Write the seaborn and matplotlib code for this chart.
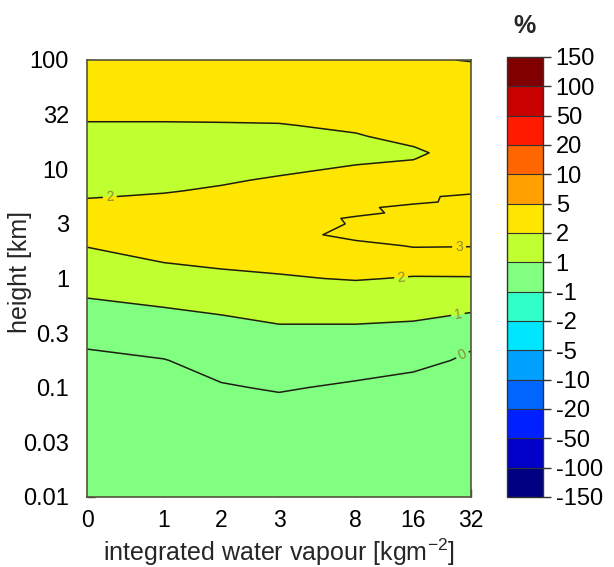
import numpy as np
import matplotlib
matplotlib.use("Agg")
import matplotlib.pyplot as plt
import seaborn as sns

# ---------------- data ----------------
iwv_labels = ['0', '1', '2', '3', '8', '16', '32']
iwv_pos = [0, 4, 7, 10, 14, 17, 20]

height_log10 = [-2.0, -1.5, -1.0, -0.75, -0.5, -0.25, 0.0, 0.1, 0.2, 0.3, 0.4,
                0.5, 0.55, 0.6, 0.65, 0.7, 0.75, 0.8, 0.9, 1.0, 1.1, 1.15, 1.2,
                1.3, 1.4, 1.5, 1.75, 2.0]
height_tick_log10 = [-2, -1.5, -1, -0.5, 0, 0.5, 1, 1.5, 2]
height_tick_labels = ['0.01', '0.03', '0.1', '0.3', '1', '3', '10', '32', '100']

# relative difference (%) per water-vapour column, bottom -> top
col_iwv0 = [-0.9, -0.85, -0.65, -0.22, 0.31, 0.85, 1.38, 1.59, 1.81, 2.03, 2.25,
            2.4, 2.4, 2.35, 2.25, 2.1, 1.95, 1.85, 1.7, 1.6, 1.55, 1.56, 1.6,
            1.7, 1.92, 2.15, 2.4, 2.5]
col_iwv1 = [-0.9, -0.85, -0.55, -0.03, 0.5, 1.03, 1.65, 1.9, 2.12, 2.3, 2.42,
            2.5, 2.5, 2.45, 2.35, 2.22, 2.08, 1.95, 1.78, 1.65, 1.58, 1.58, 1.6,
            1.7, 1.92, 2.15, 2.4, 2.5]
col_iwv2 = [-0.9, -0.7, -0.07, 0.3, 0.6, 1.2, 1.8, 2.03, 2.25, 2.42, 2.55,
            2.62, 2.62, 2.58, 2.5, 2.4, 2.28, 2.11, 1.9, 1.72, 1.62, 1.61, 1.62,
            1.72, 1.93, 2.17, 2.4, 2.5]
col_iwv3 = [-0.9, -0.75, 0.07, 0.45, 0.83, 1.35, 1.93, 2.1, 2.3, 2.5, 2.68,
            2.75, 2.75, 2.7, 2.62, 2.55, 2.48, 2.4, 2.1, 1.85, 1.7, 1.68, 1.68,
            1.75, 1.95, 2.2, 2.42, 2.5]
col_iwv8 = [-0.85, -0.6, -0.12, 0.35, 0.83, 1.35, 2.05, 2.3, 2.55, 2.78, 3.24,
            3.04, 3.06, 2.9, 2.86, 2.78, 2.7, 2.6, 2.35, 2.1, 1.85, 1.82, 1.8,
            1.93, 2.15, 2.3, 2.45, 2.5]
col_iwv16 = [-0.8, -0.5, -0.3, 0.22, 0.75, 1.32, 1.95, 2.2, 2.7, 3.05, 3.3,
             3.35, 3.3, 3.1, 3.2, 2.88, 2.8, 2.75, 2.5, 2.2, 1.97, 1.85, 1.98,
             2.25, 2.4, 2.45, 2.4, 2.08]
col_iwv32 = [-0.8, -0.55, -0.35, -0.12, 0.23, 1.25, 1.95, 2.25, 2.7, 3.03, 3.3,
             3.4, 3.4, 3.35, 3.25, 3.16, 3.23, 2.73, 2.6, 2.5, 2.45, 2.4, 2.45,
             2.5, 2.5, 2.5, 2.45, 1.97]

levels = [-150, -100, -50, -20, -10, -5, -2, -1, 1, 2, 5, 10, 20, 50, 100, 150]
level_labels = [str(v) for v in levels]
band_colors = ['#000080', '#0000c8', '#0020ff', '#0066ff', '#00a0ff', '#00e6ff',
               '#30ffc8', '#80ff80', '#c0ff30', '#ffe600', '#ffa000', '#ff6600',
               '#ff1a00', '#c80000', '#800000']
line_levels = [0, 1, 2, 3]

# ---------------- style ----------------
sns.set_theme(style="white")
plt.rcParams['font.family'] = ['Liberation Sans', 'DejaVu Sans']
plt.rcParams['mathtext.default'] = 'regular'

Z = np.column_stack([col_iwv0, col_iwv1, col_iwv2, col_iwv3,
                     col_iwv8, col_iwv16, col_iwv32])

fig = plt.figure(figsize=(6.14, 5.67), dpi=100)
ax = fig.add_axes([0.1417, 0.1235, 0.6254, 0.7707])

cs = ax.contourf(iwv_pos, height_log10, Z, levels=levels, colors=band_colors)
cl = ax.contour(iwv_pos, height_log10, Z, levels=line_levels,
                colors='#1e1e10', linewidths=1.1)
ax.clabel(cl, fmt='%d', fontsize=10, colors='#8c8c3c', inline=True,
          inline_spacing=3,
          manual=[(1.19, 0.746), (19.38, 0.288), (16.36, 0.014),
                  (19.32, -0.33), (19.53, -0.69)])

ax.set_xlim(iwv_pos[0], iwv_pos[-1])
ax.set_ylim(height_log10[0], height_log10[-1])
ax.set_xticks(iwv_pos)
ax.set_xticklabels(iwv_labels)
ax.set_yticks(height_tick_log10)
ax.set_yticklabels(height_tick_labels)
ax.tick_params(axis='both', direction='in', length=6, width=1.0,
               colors='#333333', labelcolor='black', labelsize=17,
               top=False, right=False, left=True, bottom=True)
ax.tick_params(axis='x', pad=9, labelsize=16.5)
ax.tick_params(axis='y', pad=13)
for sp in ax.spines.values():
    sp.set_visible(True)
    sp.set_color('#55553c')
    sp.set_linewidth(1.2)

ax.set_xlabel(r'integrated water vapour [kgm$^{-2}$]', fontsize=18)
ax.set_ylabel('height [km]', fontsize=18)
ax.xaxis.set_label_coords(0.5, -0.09)
ax.yaxis.set_label_coords(-0.142, 0.515)

cax = fig.add_axes([0.826, 0.1235, 0.0586, 0.776])
cb = fig.colorbar(cs, cax=cax, spacing='uniform', ticks=levels, drawedges=True)
cb.ax.set_yticklabels(level_labels)
cb.ax.tick_params(direction='out', length=6, width=1.0, labelsize=17, pad=3,
                  colors='#333333', labelcolor='black')
cb.outline.set_edgecolor('#333333')
cb.outline.set_linewidth(1.0)
cb.dividers.set_color('#333333')
cb.dividers.set_linewidth(0.8)

fig.text(0.855, 0.955, '%', fontsize=18, fontweight='bold', ha='center',
         va='center')

fig.savefig('out.png', dpi=100)
